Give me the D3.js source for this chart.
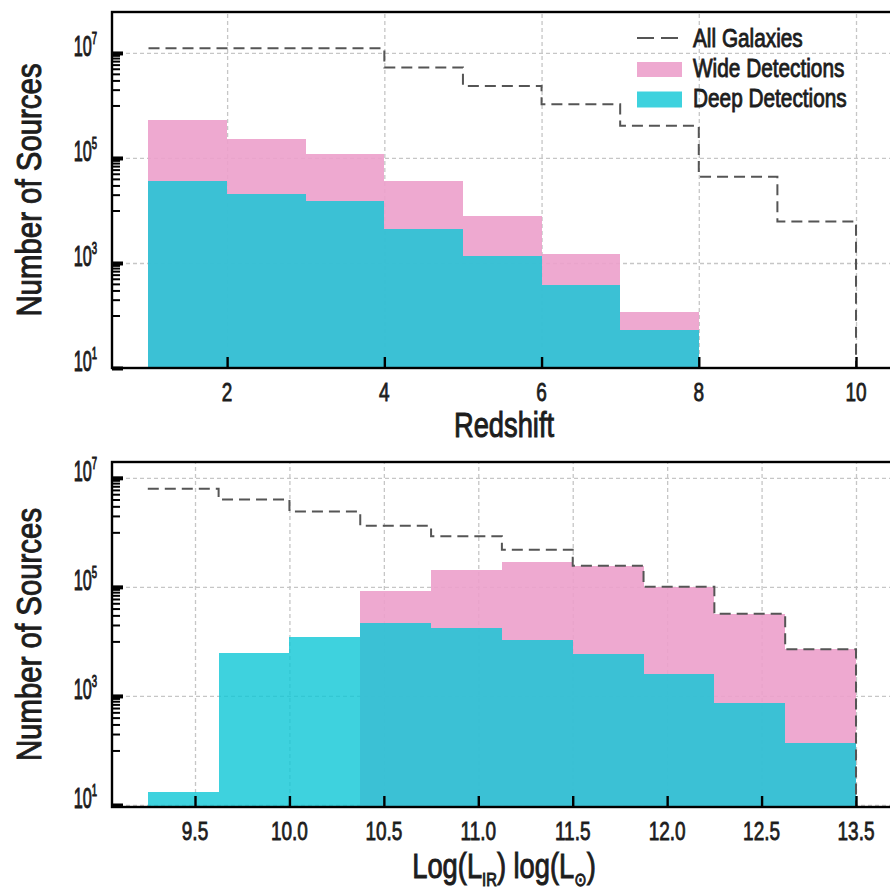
<!DOCTYPE html>
<html>
<head>
<meta charset="utf-8">
<script src="https://cdn.jsdelivr.net/npm/d3@7"></script>
<style>
  html, body { margin: 0; padding: 0; background: #fff; }
  svg { display: block; }
</style>
</head>
<body>
<svg id="chart" width="890" height="895"></svg>
<script>
// ---- Redshift histogram: bins of width 1 from z = 1 ----
const redshiftEdges = [1, 2, 3, 4, 5, 6, 7, 8, 9, 10];
const allGalaxiesZ = [1.23e7, 1.23e7, 1.23e7, 5.3e6, 2.36e6, 1.05e6, 4.1e5, 4.4e4, 6.2e3];
const wideZ = [5.3e5, 2.3e5, 1.2e5, 3.6e4, 7.9e3, 1.5e3, 118, 0, 0];
const deepZ = [3.6e4, 2.1e4, 1.5e4, 4.5e3, 1.35e3, 380, 52, 0, 0];
const redshiftTicks = [2, 4, 6, 8, 10];
const redshiftTickLabels = ["2", "4", "6", "8", "10"];

// ---- Infrared luminosity histogram ----
const lirEdges = [9.25, 9.625, 10.0, 10.375, 10.75, 11.125, 11.5, 11.875, 12.25, 12.625, 13.0];
const allGalaxiesL = [6.3e6, 4.0e6, 2.4e6, 1.32e6, 8.5e5, 4.8e5, 2.45e5, 1.0e5, 3.2e4, 7.2e3];
const wideL = [0, 0, 0, 8.3e4, 2.0e5, 2.9e5, 2.45e5, 1.0e5, 3.2e4, 7.2e3];
const deepL = [17, 6.2e3, 1.2e4, 2.2e4, 1.78e4, 1.07e4, 5.8e3, 2.5e3, 740, 137];
const lirTicks = [9.5, 10.0, 10.5, 11.0, 11.5, 12.0, 12.5, 13.0];
const lirTickLabels = ["9.5", "10.0", "10.5", "11.0", "11.5", "12.0", "12.5", "13.5"];

// ---- shared ----
const countTickExponents = [1, 3, 5, 7];
const legendLabels = ["All Galaxies", "Wide Detections", "Deep Detections"];

const PINK = "rgb(236,160,203)";
const CYAN = "rgb(14,199,214)";
const STEP = "#555";
const GRID = "#c6c6c6";
const INK = "#1d1d1d";
const FONT = "'Liberation Sans', Arial, sans-serif";

const svg = d3.select("#chart");

// text drawn with a horizontal squeeze to get a condensed face
function addText(parent, x, y, opts) {
  const o = Object.assign({ size: 22, sx: 0.85, anchor: "middle", rotate: 0, sw: 0.8 }, opts);
  const g = parent.append("g")
    .attr("transform", `translate(${x},${y}) rotate(${o.rotate}) scale(${o.sx},1)`);
  return g.append("text")
    .attr("text-anchor", o.anchor)
    .attr("font-family", FONT)
    .attr("font-size", o.size)
    .attr("fill", INK)
    .attr("stroke", INK)
    .attr("stroke-width", o.sw);
}

function drawPanel(p) {
  const g = svg.append("g");
  const [left, right] = p.x.range();
  const [bottom, topY] = p.y.range();
  const [yMin, yMax] = p.y.domain();

  const majors = countTickExponents.map(e => Math.pow(10, e));
  const minors = [];
  countTickExponents.forEach(e => {
    for (let m = 1; m <= 9; m++) {
      const v = m * Math.pow(10, e - 1);
      if (v >= yMin && v <= yMax) minors.push(v);
    }
  });

  const styleGrid = s => {
    s.select(".domain").remove();
    s.selectAll(".tick line")
      .attr("stroke", GRID).attr("stroke-width", 1.3).attr("stroke-dasharray", "4,3");
  };

  // grid
  g.append("g").attr("transform", `translate(0,${bottom})`)
    .call(d3.axisBottom(p.x).tickValues(p.ticks).tickSize(-(bottom - topY)).tickFormat(""))
    .call(styleGrid);
  g.append("g").attr("transform", `translate(${left},0)`)
    .call(d3.axisLeft(p.y).tickValues(majors.filter(v => v > yMin * 1.05))
      .tickSize(-(right - left)).tickFormat(""))
    .call(styleGrid);

  const bins = d3.range(p.edges.length - 1);
  const binX = i => p.x(p.edges[i]);
  const binW = i => p.x(p.edges[i + 1]) - p.x(p.edges[i]);

  // wide detections
  g.append("g").selectAll("rect").data(bins.filter(i => p.wide[i] > 0)).join("rect")
    .attr("x", binX).attr("width", binW)
    .attr("y", i => p.y(p.wide[i]))
    .attr("height", i => bottom - p.y(p.wide[i]))
    .attr("fill", PINK).attr("fill-opacity", 0.9)
    .attr("shape-rendering", "crispEdges");

  // deep detections
  g.append("g").selectAll("rect").data(bins.filter(i => p.deep[i] > 0)).join("rect")
    .attr("x", binX).attr("width", binW)
    .attr("y", i => p.y(p.deep[i]))
    .attr("height", i => bottom - p.y(p.deep[i]))
    .attr("fill", CYAN).attr("fill-opacity", 0.8)
    .attr("shape-rendering", "crispEdges");

  // all galaxies step outline
  const pts = p.all.map((v, i) => [p.edges[i], v]);
  pts.push([p.edges[p.edges.length - 1], yMin]);
  g.append("path")
    .attr("d", d3.line().x(d => p.x(d[0])).y(d => p.y(d[1])).curve(d3.curveStepAfter)(pts))
    .attr("fill", "none").attr("stroke", STEP).attr("stroke-width", 2)
    .attr("stroke-dasharray", "11,6");

  // inward ticks
  const styleTicks = (w) => s => {
    s.select(".domain").remove();
    s.selectAll(".tick line").attr("stroke", "#000").attr("stroke-width", w);
  };
  g.append("g").attr("transform", `translate(0,${bottom})`)
    .call(d3.axisBottom(p.x).tickValues(p.ticks).tickSizeInner(-11).tickSizeOuter(0).tickFormat(""))
    .call(styleTicks(2.4));
  g.append("g").attr("transform", `translate(${left},0)`)
    .call(d3.axisLeft(p.y).tickValues(minors).tickSizeInner(-8).tickSizeOuter(0).tickFormat(""))
    .call(styleTicks(2));
  g.append("g").attr("transform", `translate(${left},0)`)
    .call(d3.axisLeft(p.y).tickValues(majors).tickSizeInner(-11).tickSizeOuter(0).tickFormat(""))
    .call(styleTicks(4));

  // frame
  g.append("rect")
    .attr("x", left).attr("y", topY).attr("width", right - left).attr("height", bottom - topY)
    .attr("fill", "none").attr("stroke", "#000").attr("stroke-width", 2.4);

  // x tick labels
  p.ticks.forEach((t, i) => {
    addText(g, p.x(t), bottom + 33, { size: 25, sx: 0.76 }).text(p.tickLabels[i]);
  });

  // y tick labels as powers of ten
  countTickExponents.forEach(e => {
    const t = addText(g, 97, p.y(Math.pow(10, e)) + 3, { size: 29, sx: 0.56, anchor: "end", sw: 1 });
    t.append("tspan").text("10");
    t.append("tspan").attr("font-size", 17).attr("dy", -12).text(e);
  });

  // axis titles
  addText(g, 41, (topY + bottom) / 2, { size: 35, sx: 0.84, rotate: -90, sw: 1 }).text("Number of Sources");
  return g;
}

// ---- top panel: redshift ----
const xZ = d3.scaleLinear().domain([0.5357, 10.496]).range([112, 895]);
const yZ = d3.scaleLog().domain([10, Math.pow(10, 7.78)]).range([368, 12]);
const panelZ = drawPanel({
  x: xZ, y: yZ, edges: redshiftEdges, all: allGalaxiesZ, wide: wideZ, deep: deepZ,
  ticks: redshiftTicks, tickLabels: redshiftTickLabels
});
addText(panelZ, 504, 437, { size: 35, sx: 0.78, sw: 1 }).text("Redshift");

// legend
const lg = panelZ.append("g");
const lx = 637, lw = 45;
lg.append("line").attr("x1", lx).attr("x2", lx + lw).attr("y1", 38).attr("y2", 38)
  .attr("stroke", STEP).attr("stroke-width", 2).attr("stroke-dasharray", "17,7");
lg.append("rect").attr("x", lx).attr("y", 62).attr("width", lw).attr("height", 15)
  .attr("fill", PINK).attr("fill-opacity", 0.9);
lg.append("rect").attr("x", lx).attr("y", 91.5).attr("width", lw).attr("height", 16)
  .attr("fill", CYAN).attr("fill-opacity", 0.8);
[46.5, 77, 107].forEach((yy, i) => {
  addText(lg, 693, yy, { size: 26, sx: 0.8, anchor: "start", sw: 0.9 }).text(legendLabels[i]);
});

// ---- bottom panel: infrared luminosity ----
const xL = d3.scaleLinear().domain([9.0605, 13.2065]).range([112, 895]);
const yL = d3.scaleLog().domain([Math.pow(10, 0.963), Math.pow(10, 7.29)]).range([807, 462]);
const panelL = drawPanel({
  x: xL, y: yL, edges: lirEdges, all: allGalaxiesL, wide: wideL, deep: deepL,
  ticks: lirTicks, tickLabels: lirTickLabels
});
const xt = addText(panelL, 504, 878, { size: 35, sx: 0.78, sw: 1 });
xt.append("tspan").text("Log(L");
xt.append("tspan").attr("font-size", 19).attr("dy", 8).text("IR");
xt.append("tspan").attr("dy", -8).text(") log(L");
xt.append("tspan").attr("font-size", 19).attr("dy", 8).attr("font-family", "'DejaVu Sans', sans-serif").text("⊙");
xt.append("tspan").attr("dy", -8).text(")");
</script>
</body>
</html>
